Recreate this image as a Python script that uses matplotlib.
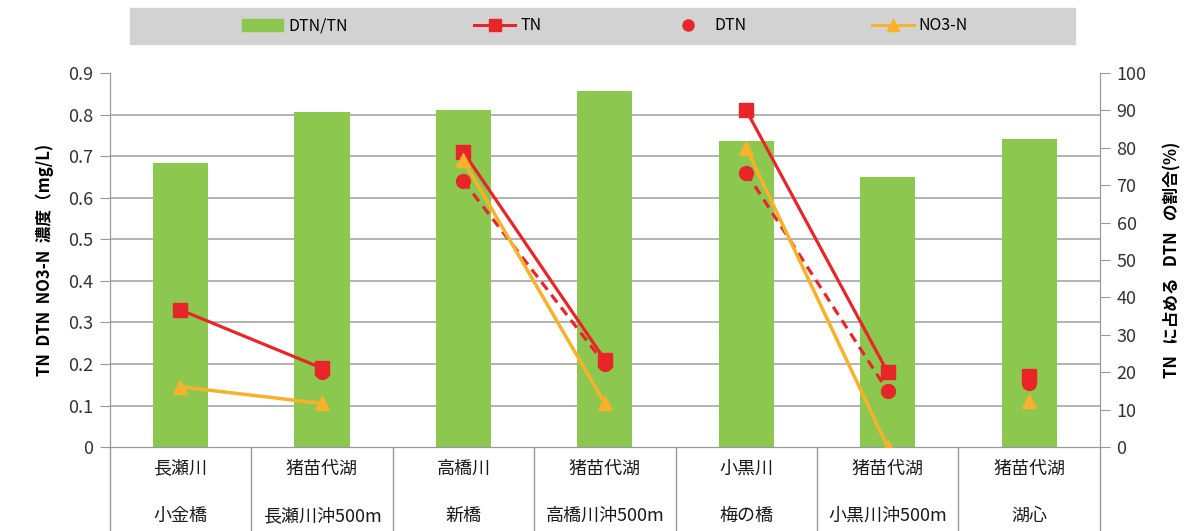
import numpy as np
import matplotlib
matplotlib.use('Agg')
import matplotlib.pyplot as plt
from matplotlib.lines import Line2D
from matplotlib.patches import Patch, Rectangle

# フォント
plt.rcParams['font.family'] = ['Noto Sans CJK JP', 'DejaVu Sans']
plt.rcParams['font.size'] = 12

# データ
sites = ['長瀬川\n\n小金橋', '猪苗代湖\n\n長瀬川沖500m', '高橋川\n\n新橋',
         '猪苗代湖\n\n高橋川沖500m', '小黒川\n\n梅の橋', '猪苗代湖\n\n小黒川沖500m',
         '猪苗代湖\n\n湖心']
dtn_tn = [76, 89.5, 90, 95.2, 81.8, 72.2, 82.4]      # %
tn = [0.33, 0.19, 0.71, 0.21, 0.81, 0.18, 0.17]      # mg/L
dtn = [np.nan, 0.18, 0.64, 0.20, 0.66, 0.135, 0.155]
no3 = [0.145, 0.105, 0.69, 0.105, 0.72, 0.0, 0.11]
pairs = [[0, 1], [2, 3], [4, 5], [6]]
left_ticks = np.arange(0, 0.91, 0.1)

green = '#8cc850'
red = '#e8262a'
orange = '#f7b12a'
grid_c = '#a6a6a6'

fig = plt.figure(figsize=(11.93, 5.31), dpi=100)
ax = fig.add_axes([0.092, 0.158, 0.830, 0.7045])
ax2 = ax.twinx()
ax.set_zorder(ax2.get_zorder() + 1)
ax.patch.set_visible(False)

x = np.arange(len(sites))

# 棒グラフ（右軸）
ax2.bar(x, dtn_tn, width=0.39, color=green, zorder=2)
ax2.set_ylim(0, 100)
ax2.set_yticks(np.arange(0, 101, 10))
# 目盛線は左軸の値に合わせて棒の後ろに描く
ax2.set_yticks(left_ticks / 0.9 * 100, minor=True)
ax2.grid(axis='y', which='minor', color=grid_c, linewidth=1.2)
ax2.grid(axis='y', which='major', visible=False)
ax2.tick_params(axis='y', which='minor', length=0)
ax2.set_axisbelow(True)

# 折れ線（左軸）
xv = np.array(x)
for p in pairs:
    ax.plot(xv[p], np.array(tn)[p], color=red, lw=2.3, marker='s', ms=10, zorder=4)
    ax.plot(xv[p], np.array(dtn)[p], color=red, lw=2.3, ls=(0, (3, 2)), marker='o', ms=10, zorder=3)
    ax.plot(xv[p], np.array(no3)[p], color=orange, lw=2.5, marker='^', ms=10, zorder=5)

ax.set_ylim(0, 0.9)
ax.set_yticks(left_ticks)
ax.set_yticklabels(['0'] + ['%.1f' % v for v in left_ticks[1:]])
ax.set_xlim(-0.5, 6.5)
ax.set_xticks(x)
ax.set_xticklabels(sites, fontsize=13, linespacing=1.4, color='#1a1a1a')
ax.set_xticks(np.arange(-0.5, 7, 1), minor=True)
ax.tick_params(axis='x', which='major', length=0, pad=9)
ax.tick_params(axis='x', which='minor', length=62, color='#999999', width=1)
ax.tick_params(axis='y', length=7, color='#999999', labelsize=13, colors='#333333', pad=5)
ax2.tick_params(axis='y', which='major', length=7, color='#999999', labelsize=13,
                colors='#333333', pad=5)

for a in (ax, ax2):
    a.spines['top'].set_visible(False)
    for s in ('left', 'right', 'bottom'):
        a.spines[s].set_color('#999999')

ax.set_ylabel('TN  DTN  NO3-N  濃度（mg/L)', fontsize=12, fontweight='bold', labelpad=10)
ax2.set_ylabel('TN   に占める   DTN   の割合(%)', fontsize=12, fontweight='bold', labelpad=12)

# 凡例
fig.patches.append(Rectangle((130 / 1193, 1 - 44 / 531), 945 / 1193, 36 / 531,
                             transform=fig.transFigure, color='#d2d2d2', zorder=0))
handles = [Patch(color=green),
           Line2D([], [], color=red, lw=2.2, marker='s', ms=8),
           Line2D([], [], color=red, ls='none', marker='o', ms=8),
           Line2D([], [], color=orange, lw=2.2, marker='^', ms=8)]
fig.legend(handles, ['DTN/TN', 'TN', 'DTN', 'NO3-N'], loc='center',
           bbox_to_anchor=(0.507, 1 - 26 / 531), ncol=4, frameon=False,
           fontsize=11.5, columnspacing=7.9, handlelength=2.6, handletextpad=0.3)

fig.savefig('out.png', dpi=100)
